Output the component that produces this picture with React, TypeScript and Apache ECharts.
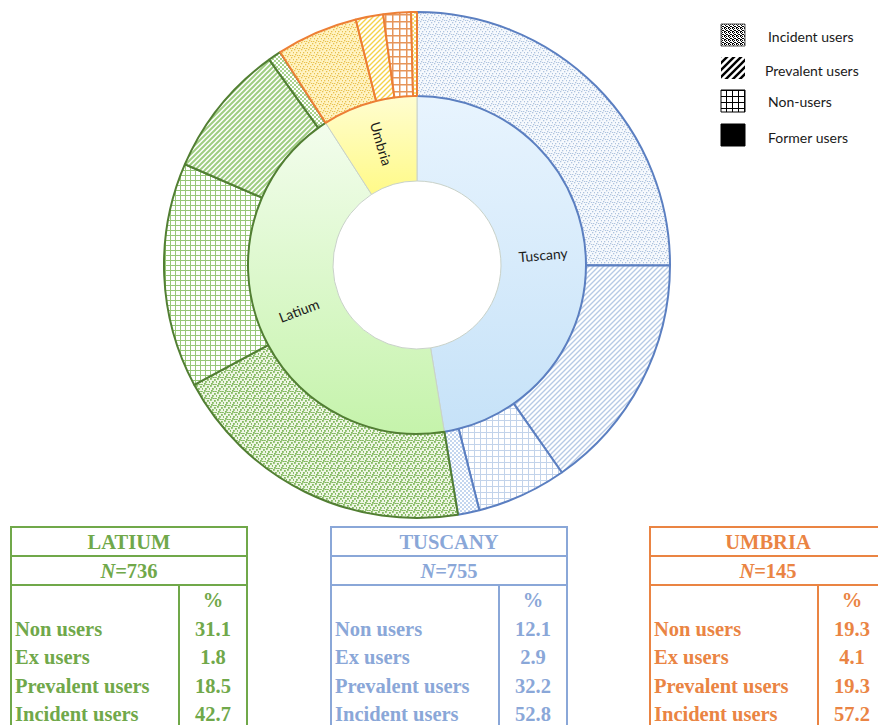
import React, { useEffect, useRef } from 'react';
import * as echarts from 'echarts';

// ---- data ----
const regions = ['Tuscany', 'Latium', 'Umbria'];
const regionTitles = ['TUSCANY', 'LATIUM', 'UMBRIA'];
const sampleSizes = [755, 736, 145];
const userGroups = ['Non users', 'Ex users', 'Prevalent users', 'Incident users'];
const tuscanyPct = [12.1, 2.9, 32.2, 52.8];
const latiumPct = [31.1, 1.8, 18.5, 42.7];
const umbriaPct = [19.3, 4.1, 19.3, 57.2];
// clockwise order of the user groups in each region's outer ring (indices into userGroups)
const tuscanyRingOrder = [3, 2, 0, 1];
const latiumRingOrder = [3, 0, 2, 1];
const umbriaRingOrder = [3, 2, 0, 1];
const legendLabels = ['Incident users', 'Prevalent users', 'Non-users', 'Former users'];

const regionPct: Record<string, number[]> = { Tuscany: tuscanyPct, Latium: latiumPct, Umbria: umbriaPct };
const ringOrder: Record<string, number[]> = { Tuscany: tuscanyRingOrder, Latium: latiumRingOrder, Umbria: umbriaRingOrder };

// ---- styling ----
type Theme = {
  border: string;
  table: string;
  inner: [string, string];
  dots: [string, string];
  stripes: [string, string];
  grid: [string, string];
  checker: [string, string];
};
const themes: Record<string, Theme> = {
  Tuscany: {
    border: '#5b7fc1', table: '#8aa7d8', inner: ['#e8f4fe', '#c6e2f8'],
    dots: ['#f6f9fd', '#aec3df'], stripes: ['#ffffff', '#b7cae5'], grid: ['#ffffff', '#c2d3ea'], checker: ['#c4d6ef', '#ffffff'],
  },
  Latium: {
    border: '#527f33', table: '#70a84a', inner: ['#f3fded', '#c5f3ab'],
    dots: ['#eef6e4', '#82b85f'], stripes: ['#ffffff', '#9fcd82'], grid: ['#ffffff', '#97c779'], checker: ['#a9d28e', '#ffffff'],
  },
  Umbria: {
    border: '#ed7f35', table: '#ea8443', inner: ['#fffdd0', '#fffa88'],
    dots: ['#fff3c2', '#e8c14f'], stripes: ['#ffffff', '#f5d24c'], grid: ['#ffffff', '#e6955a'], checker: ['#f6e27a', '#ffffff'],
  },
};
const tableLeft: Record<string, number> = { Latium: 11, Tuscany: 331, Umbria: 650 };
const SERIF_STACK = '"Liberation Serif", "Times New Roman", serif';
const SANS = 'Lato';

type Painter = (ctx: CanvasRenderingContext2D, w: number, h: number) => void;

function makePattern(w: number, h: number, bg: string | null, paint: Painter) {
  const c = document.createElement('canvas');
  c.width = w;
  c.height = h;
  const ctx = c.getContext('2d') as CanvasRenderingContext2D;
  if (bg) {
    ctx.fillStyle = bg;
    ctx.fillRect(0, 0, w, h);
  }
  paint(ctx, w, h);
  return { image: c.toDataURL(), repeat: 'repeat', imageWidth: w, imageHeight: h };
}

const dotPainter = (fg: string, size: number, pts: number[][]): Painter => (ctx) => {
  ctx.fillStyle = fg;
  pts.forEach(([x, y]) => ctx.fillRect(x, y, size, size));
};
const stripePainter = (fg: string, lw: number): Painter => (ctx, w, h) => {
  ctx.strokeStyle = fg;
  ctx.lineWidth = lw;
  ctx.beginPath();
  ctx.moveTo(0, h);
  ctx.lineTo(w, 0);
  ctx.moveTo(-w / 2, h / 2);
  ctx.lineTo(w / 2, -h / 2);
  ctx.moveTo(w / 2, h * 1.5);
  ctx.lineTo(w * 1.5, h / 2);
  ctx.stroke();
};
const gridPainter = (fg: string, lw: number): Painter => (ctx, w, h) => {
  ctx.fillStyle = fg;
  ctx.fillRect(0, 0, w, lw);
  ctx.fillRect(0, 0, lw, h);
};
const checkerPainter = (fg: string): Painter => (ctx, w, h) => {
  ctx.fillStyle = fg;
  ctx.fillRect(0, 0, w / 2, h / 2);
  ctx.fillRect(w / 2, h / 2, w / 2, h / 2);
};

// scattered speckle positions inside a 7x7 tile
const speckle = [[0, 0], [4, 1], [2, 3], [6, 3], [1, 5], [5, 6], [3, 6]];

function groupPatterns(region: string) {
  const t = themes[region];
  const gridCell = region === 'Umbria' ? 7 : region === 'Latium' ? 5 : 6;
  return [
    makePattern(gridCell, gridCell, t.grid[0], gridPainter(t.grid[1], region === 'Umbria' ? 1.5 : 1)),
    makePattern(4, 4, t.checker[0], checkerPainter(t.checker[1])),
    makePattern(5, 5, t.stripes[0], stripePainter(t.stripes[1], region === 'Latium' ? 2 : 1.4)),
    makePattern(7, 7, t.dots[0], dotPainter(t.dots[1], region === 'Latium' ? 1.8 : 1.3, speckle)),
  ];
}

function innerGradient(region: string) {
  const [top, bottom] = themes[region].inner;
  return new echarts.graphic.LinearGradient(0, 0, 0, 1, [
    { offset: 0, color: top },
    { offset: 1, color: bottom },
  ]);
}

function buildTable(region: string, idx: number) {
  const t = themes[region];
  const left = tableLeft[region];
  const width = 236;
  const split = left + 168;
  const valueX = (split + left + width) / 2;
  const boldFont = `bold 20.5px ${SERIF_STACK}`;
  const txt = (text: string, x: number, y: number, align: string, rich?: any) => {
    const style: any = {
      text,
      x,
      y,
      fill: t.table,
      font: boldFont,
      align,
      verticalAlign: 'middle',
    };
    if (rich) style.rich = rich;
    return { type: 'text', silent: true, style };
  };
  const pct = regionPct[region];
  const els: any[] = [
    { type: 'rect', silent: true, shape: { x: left, y: 527, width, height: 220 }, style: { fill: 'none', stroke: t.table, lineWidth: 2 } },
    { type: 'line', silent: true, shape: { x1: left, y1: 556, x2: left + width, y2: 556 }, style: { stroke: t.table, lineWidth: 2 } },
    { type: 'line', silent: true, shape: { x1: left, y1: 585, x2: left + width, y2: 585 }, style: { stroke: t.table, lineWidth: 2 } },
    { type: 'line', silent: true, shape: { x1: split, y1: 585, x2: split, y2: 750 }, style: { stroke: t.table, lineWidth: 2 } },
    txt(regionTitles[idx], left + width / 2, 542, 'center'),
    txt(`{i|N}{b|=${sampleSizes[idx]}}`, left + width / 2, 571, 'center', {
      i: { font: `italic bold 20.5px ${SERIF_STACK}`, fill: t.table },
      b: { font: boldFont, fill: t.table },
    }),
    txt('%', valueX, 600, 'center'),
  ];
  const rowY = [629, 657, 686, 714];
  userGroups.forEach((g, k) => {
    els.push(txt(g, left + 4, rowY[k], 'left'));
    els.push(txt(pct[k].toFixed(1), valueX, rowY[k], 'center'));
  });
  return els;
}

function buildLegend() {
  const black = '#000000';
  const swatches = [
    makePattern(4, 4, '#ffffff', dotPainter(black, 1, [[0, 0], [2, 0], [1, 1], [3, 2], [0, 3], [2, 2], [1, 3]])),
    makePattern(7, 7, '#ffffff', stripePainter(black, 2.4)),
    makePattern(6, 6, '#ffffff', gridPainter(black, 1)),
    black,
  ];
  const ys = [24, 57, 90, 124];
  const textYs = [36, 70, 101, 137];
  const textXs = [768, 765, 768, 768];
  const els: any[] = [];
  legendLabels.forEach((label, k) => {
    els.push({
      type: 'rect',
      silent: true,
      shape: { x: 721, y: ys[k], width: 24, height: 22 },
      style: { fill: swatches[k], stroke: k === 0 ? '#555555' : k === 1 ? 'none' : black, lineWidth: 1 },
    });
    els.push({
      type: 'text',
      silent: true,
      style: {
        text: label,
        x: textXs[k],
        y: textYs[k],
        fill: '#1a1a1a',
        font: `14px ${SANS}`,
        align: 'left',
        verticalAlign: 'middle',
      },
    });
  });
  return els;
}

export default function App() {
  const ref = useRef<HTMLDivElement>(null);

  useEffect(() => {
    if (!ref.current) return;
    const chart = echarts.init(ref.current, undefined, { renderer: 'svg' });

    const data = regions.map((region, i) => {
      const patterns = groupPatterns(region);
      return {
        name: region,
        itemStyle: { color: innerGradient(region), borderColor: '#c9d2c9', borderWidth: 1 },
        children: ringOrder[region].map((g) => ({
          name: userGroups[g],
          value: (sampleSizes[i] * regionPct[region][g]) / 100,
          itemStyle: { color: patterns[g], borderColor: themes[region].border, borderWidth: 2 },
        })),
      };
    });

    const graphics: any[] = [...buildLegend()];
    regions.forEach((r, i) => graphics.push(...buildTable(r, i)));

    chart.setOption({
      animation: false,
      backgroundColor: '#ffffff',
      series: [
        {
          type: 'sunburst',
          center: [417, 265],
          radius: [84, 253],
          sort: null,
          nodeClick: false,
          startAngle: 90,
          clockwise: true,
          emphasis: { disabled: true },
          data,
          levels: [
            {},
            {
              r0: 84,
              r: 169,
              label: {
                show: true,
                rotate: 'radial',
                color: '#1c1c1c',
                fontSize: 14,
                fontFamily: SANS,
              },
            },
            { r0: 169, r: 253, label: { show: false } },
          ],
        },
      ],
      graphic: { elements: graphics },
    });

    return () => chart.dispose();
  }, []);

  return <div ref={ref} style={{ position: 'fixed', left: 0, top: 0, width: 878, height: 725 }} />;
}
